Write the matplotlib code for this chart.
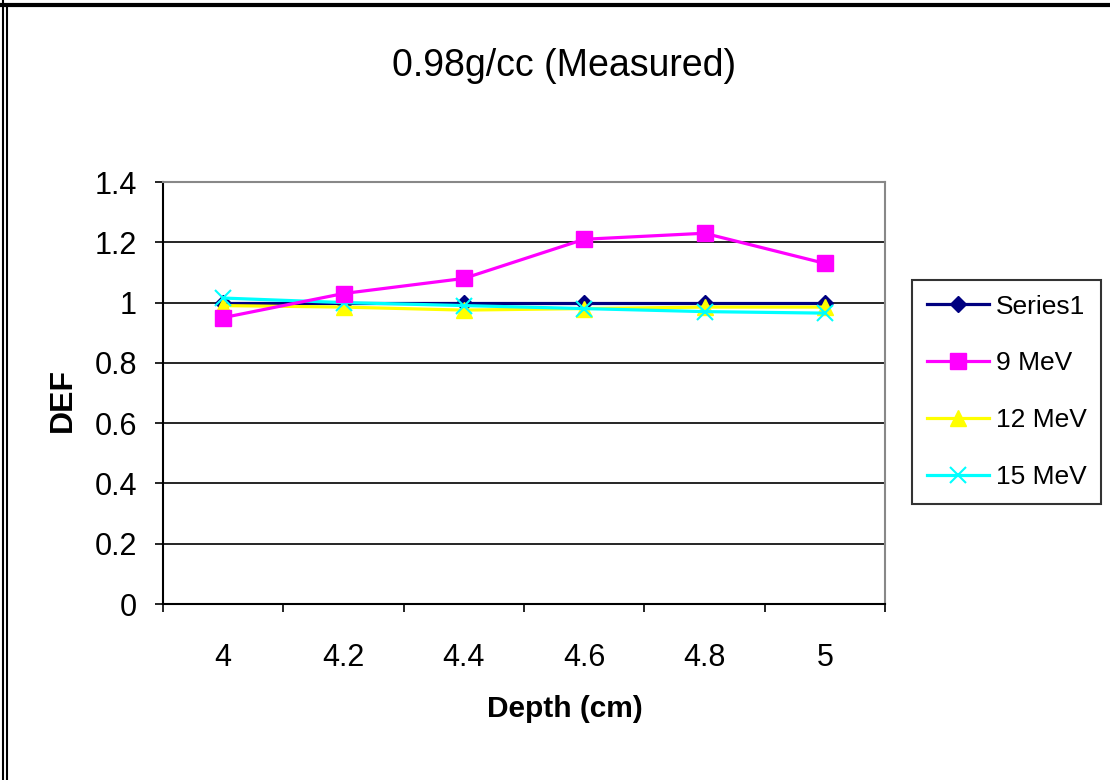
import numpy as np
import matplotlib.pyplot as plt
from matplotlib.lines import Line2D

plt.rcParams['font.family'] = ['Liberation Sans', 'DejaVu Sans']

depth = ['4', '4.2', '4.4', '4.6', '4.8', '5']
series1 = [1.0, 1.0, 1.0, 1.0, 1.0, 1.0]
mev9 = [0.95, 1.03, 1.08, 1.21, 1.23, 1.13]
mev12 = [0.99, 0.985, 0.975, 0.98, 0.985, 0.985]
mev15 = [1.015, 1.0, 0.99, 0.98, 0.97, 0.965]
yticks = [0, 0.2, 0.4, 0.6, 0.8, 1, 1.2, 1.4]
ylabels = ['0', '0.2', '0.4', '0.6', '0.8', '1', '1.2', '1.4']

fig = plt.figure(figsize=(11.1, 7.8), dpi=100)
ax = fig.add_axes([163/1110, 1 - 604/780, (885-163)/1110, (604-182)/780])

x = np.arange(len(depth))
ax.plot(x, series1, color='#000080', lw=2.3, marker='D', ms=8, label='Series1', zorder=3)
ax.plot(x, mev9, color='#ff00ff', lw=2.3, marker='s', ms=11.5, label='9 MeV', zorder=4)
ax.plot(x, mev12, color='#ffff00', lw=2.3, marker='^', ms=12, label='12 MeV', zorder=3)
ax.plot(x, mev15, color='#00ffff', lw=2.3, marker='x', ms=11, mew=1.5, label='15 MeV', zorder=3)

ax.set_xlim(-0.5, len(depth) - 0.5)
ax.set_ylim(0, 1.4)
ax.set_yticks(yticks)
ax.set_yticklabels(ylabels, fontsize=22)
ax.set_xticks(x)
ax.set_xticklabels(depth, fontsize=22)
ax.set_xticks(np.arange(-0.5, len(depth)), minor=True)
ax.tick_params(axis='x', which='major', length=0, pad=28)
ax.tick_params(axis='x', which='minor', length=5.8, width=1.2, direction='out')
ax.tick_params(axis='y', length=5.8, width=1.2, direction='out', pad=13)

ax.grid(axis='y', color='black', lw=1.2)
ax.set_axisbelow(True)
for s in ['top', 'right']:
    ax.spines[s].set_color('#888888')
    ax.spines[s].set_linewidth(1.5)
for s in ['left', 'bottom']:
    ax.spines[s].set_color('black')
    ax.spines[s].set_linewidth(1.5)

ax.set_xlabel('Depth (cm)', fontsize=21.5, fontweight='bold')
ax.xaxis.set_label_coords(0.557, -0.215)
ax.set_ylabel('DEF', fontsize=23, fontweight='bold')
ax.yaxis.set_label_coords(-0.118, 0.483)
fig.text(0.508, 1 - 66/780, '0.98g/cc (Measured)', fontsize=27, ha='center', va='center')

leg = ax.legend(loc='upper left', bbox_to_anchor=(912/1110, 1 - 280/780),
                bbox_transform=fig.transFigure, borderaxespad=0, fontsize=19,
                frameon=True, fancybox=False, edgecolor='black', handlelength=2.35,
                labelspacing=1.25, borderpad=0.55, handletextpad=0.27)
leg.get_frame().set_linewidth(1.5)

# outer frame of the picture
fig.add_artist(Line2D([2.5/1110, 2.5/1110], [0, 1], color='black', lw=1.5))
fig.add_artist(Line2D([6.5/1110, 6.5/1110], [0, 1 - 6/780], color='black', lw=1.5))
fig.add_artist(Line2D([0, 1], [1 - 5/780, 1 - 5/780], color='black', lw=3))

fig.savefig('out.png', dpi=100)
